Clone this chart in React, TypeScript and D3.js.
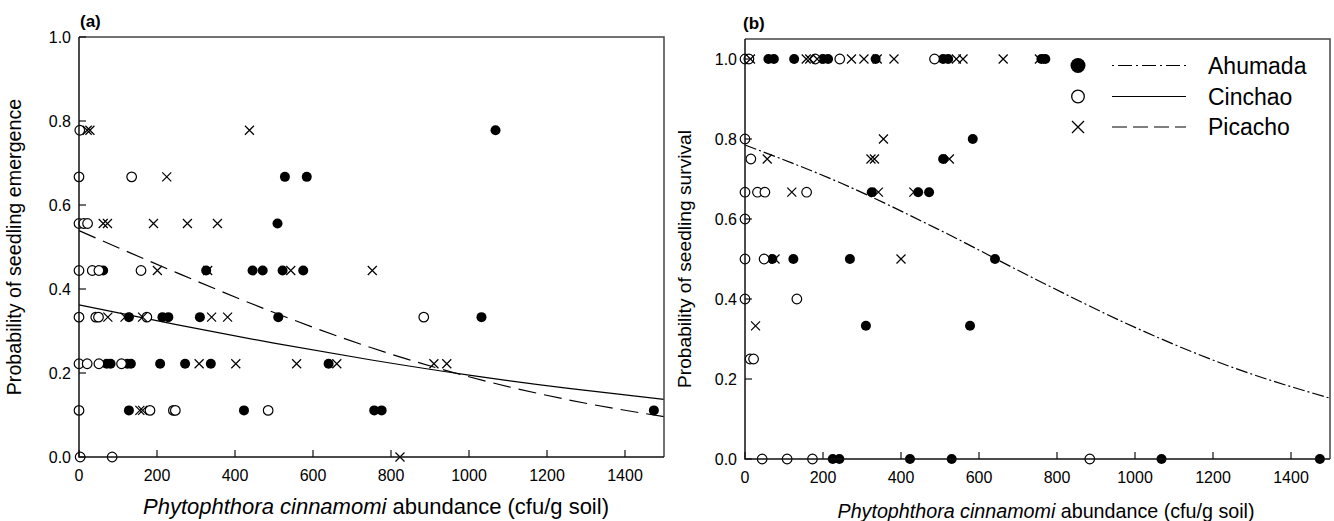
import React from "react";
import * as d3 from "d3";

// ---------- data ----------
// Panel (a): seedling emergence
const emergAhumada: [number, number][] = [
  [1068, 0.778], [528, 0.667], [584, 0.667], [509, 0.556],
  [62, 0.444], [326, 0.444], [445, 0.444], [471, 0.444], [522, 0.444], [575, 0.444],
  [128, 0.333], [214, 0.333], [229, 0.333], [310, 0.333], [511, 0.333], [1032, 0.333],
  [71, 0.222], [81, 0.222], [124, 0.222], [133, 0.222], [208, 0.222], [272, 0.222], [338, 0.222], [640, 0.222],
  [128, 0.111], [423, 0.111], [757, 0.111], [776, 0.111], [1474, 0.111],
];
const emergCinchao: [number, number][] = [
  [2, 0.778], [0, 0.667], [135, 0.667], [0, 0.556], [12, 0.556], [22, 0.556],
  [0, 0.444], [34, 0.444], [51, 0.444], [159, 0.444],
  [0, 0.333], [43, 0.333], [50, 0.333], [174, 0.333], [884, 0.333],
  [0, 0.222], [21, 0.222], [51, 0.222], [109, 0.222],
  [0, 0.111], [182, 0.111], [242, 0.111], [247, 0.111], [485, 0.111],
  [3, 0], [85, 0],
];
const emergPicacho: [number, number][] = [
  [21, 0.778], [28, 0.778], [437, 0.778], [225, 0.667],
  [62, 0.556], [73, 0.556], [191, 0.556], [278, 0.556], [355, 0.556],
  [201, 0.444], [330, 0.444], [543, 0.444], [752, 0.444],
  [74, 0.333], [118, 0.333], [163, 0.333], [340, 0.333], [381, 0.333],
  [308, 0.222], [402, 0.222], [558, 0.222], [661, 0.222], [910, 0.222], [943, 0.222],
  [156, 0.111], [163, 0.111], [823, 0],
];

// Panel (b): seedling survival
const survAhumada: [number, number][] = [
  [60, 1], [74, 1], [126, 1], [200, 1], [213, 1], [335, 1], [508, 1], [521, 1], [760, 1], [770, 1],
  [584, 0.8], [508, 0.75], [325, 0.667], [444, 0.667], [472, 0.667],
  [70, 0.5], [124, 0.5], [269, 0.5], [641, 0.5], [310, 0.333], [577, 0.333],
  [225, 0], [242, 0], [423, 0], [530, 0], [1068, 0], [1474, 0],
];
const survCinchao: [number, number][] = [
  [0, 1], [10, 1], [180, 1], [243, 1], [486, 1],
  [0, 0.8], [15, 0.75], [0, 0.667], [32, 0.667], [51, 0.667], [158, 0.667],
  [0, 0.6], [0, 0.5], [49, 0.5], [0, 0.4], [133, 0.4], [13, 0.25], [22, 0.25],
  [44, 0], [108, 0], [173, 0], [884, 0],
];
const survPicacho: [number, number][] = [
  [14, 1], [157, 1], [166, 1], [185, 1], [273, 1], [305, 1], [339, 1], [382, 1], [542, 1], [559, 1], [662, 1], [755, 1],
  [355, 0.8], [57, 0.75], [323, 0.75], [332, 0.75], [524, 0.75],
  [120, 0.667], [342, 0.667], [433, 0.667], [77, 0.5], [400, 0.5], [27, 0.333],
];

// Fitted curves
const curveX = [0, 250, 500, 750, 1000, 1250, 1500];
const fitEmergCinchao = [0.362, 0.315, 0.271, 0.231, 0.195, 0.164, 0.137];
const fitEmergPicacho = [0.539, 0.439, 0.344, 0.26, 0.191, 0.137, 0.096];
const fitSurvAhumada = [0.785, 0.688, 0.572, 0.447, 0.329, 0.229, 0.152];

const xTicks = [0, 200, 400, 600, 800, 1000, 1200, 1400];
const yTicks = [0, 0.2, 0.4, 0.6, 0.8, 1.0];
const legendNames = ["Ahumada", "Cinchao", "Picacho"];

const FONT = "'Liberation Sans', Arial, Helvetica, sans-serif";

type Scale = d3.ScaleLinear<number, number>;

function Filled({ pts, x, y }: { pts: [number, number][]; x: Scale; y: Scale }) {
  return (
    <g>
      {pts.map((p, i) => (
        <circle key={i} cx={x(p[0])} cy={y(p[1])} r={5} fill="#000" />
      ))}
    </g>
  );
}
function Open({ pts, x, y }: { pts: [number, number][]; x: Scale; y: Scale }) {
  return (
    <g>
      {pts.map((p, i) => (
        <circle key={i} cx={x(p[0])} cy={y(p[1])} r={4.8} fill="#fff" stroke="#000" strokeWidth={1.2} />
      ))}
    </g>
  );
}
function Cross({ pts, x, y, s = 4.5 }: { pts: [number, number][]; x: Scale; y: Scale; s?: number }) {
  return (
    <g stroke="#000" strokeWidth={1.2}>
      {pts.map((p, i) => {
        const cx = x(p[0]);
        const cy = y(p[1]);
        return (
          <path key={i} d={`M${cx - s},${cy - s}L${cx + s},${cy + s}M${cx - s},${cy + s}L${cx + s},${cy - s}`} />
        );
      })}
    </g>
  );
}

function Axes({ x, y, tickFmt }: { x: Scale; y: Scale; tickFmt: (n: number) => string }) {
  const [x0, x1] = x.range();
  const [y0, y1] = y.range();
  return (
    <g fontFamily={FONT} fontSize={16} fill="#000">
      {/* box */}
      <path d={`M${x0},${y1}H${x1}V${y0}`} fill="none" stroke="#444" strokeWidth={1.5} />
      <path d={`M${x0},${y1}V${y0}H${x1}`} fill="none" stroke="#111" strokeWidth={1.5} />
      {xTicks.map((t) => (
        <g key={"x" + t}>
          <line x1={x(t)} x2={x(t)} y1={y0} y2={y0 - 7} stroke="#111" strokeWidth={1.2} />
          <text x={x(t)} y={y0 + 24} textAnchor="middle">{t}</text>
        </g>
      ))}
      {yTicks.map((t) => (
        <g key={"y" + t}>
          <line x1={x0} x2={x0 + 7} y1={y(t)} y2={y(t)} stroke="#111" strokeWidth={1.2} />
          <text x={x0 - 8} y={y(t) + 5.5} textAnchor="end">{tickFmt(t)}</text>
        </g>
      ))}
    </g>
  );
}

function XTitle({ x, y, size }: { x: number; y: number; size: number }) {
  return (
    <text x={x} y={y} textAnchor="middle" fontFamily={FONT} fontSize={size} fill="#000">
      <tspan fontStyle="italic">Phytophthora cinnamomi</tspan> abundance (cfu/g soil)
    </text>
  );
}

export default function App() {
  const xA = d3.scaleLinear().domain([0, 1500]).range([79, 664]);
  const yA = d3.scaleLinear().domain([0, 1]).range([457, 37]);
  const xB = d3.scaleLinear().domain([0, 1500]).range([745, 1330]);
  const yB = d3.scaleLinear().domain([0, 1.05]).range([459, 39]);
  const fmt = d3.format(".1f");

  const lineFn = (x: Scale, y: Scale) =>
    d3
      .line<number>()
      .x((_, i) => x(curveX[i]))
      .y((d) => y(d))
      .curve(d3.curveMonotoneX);

  const legendRows = [65.5, 96.5, 127];
  const lx0 = 1112;
  const lx1 = 1186;
  const mx = 1078;

  return (
    <svg
      width={1334}
      height={521}
      style={{ position: "absolute", left: 0, top: 0, background: "#fff" }}
    >
      <rect width={1334} height={521} fill="#fff" />
      {/* Panel (a) */}
      <text x={80} y={27} fontFamily={FONT} fontWeight="bold" fontSize={17}>(a)</text>
      <path d={lineFn(xA, yA)(fitEmergCinchao) || ""} fill="none" stroke="#000" strokeWidth={1.2} />
      <path d={lineFn(xA, yA)(fitEmergPicacho) || ""} fill="none" stroke="#000" strokeWidth={1.2} strokeDasharray="18,8" />
      <Filled pts={emergAhumada} x={xA} y={yA} />
      <Open pts={emergCinchao} x={xA} y={yA} />
      <Cross pts={emergPicacho} x={xA} y={yA} />
      <Axes x={xA} y={yA} tickFmt={fmt} />
      <XTitle x={376} y={514} size={22} />
      <text
        transform="translate(21,247) rotate(-90)"
        textAnchor="middle"
        fontFamily={FONT}
        fontSize={19.7}
      >
        Probability of seedling emergence
      </text>

      {/* Panel (b) */}
      <text x={743} y={28.5} fontFamily={FONT} fontWeight="bold" fontSize={17}>(b)</text>
      <path d={lineFn(xB, yB)(fitSurvAhumada) || ""} fill="none" stroke="#000" strokeWidth={1.2} strokeDasharray="12,3,2,3" />
      <Filled pts={survAhumada} x={xB} y={yB} />
      <Open pts={survCinchao} x={xB} y={yB} />
      <Cross pts={survPicacho} x={xB} y={yB} />
      <Axes x={xB} y={yB} tickFmt={fmt} />
      <XTitle x={1046} y={518} size={19.7} />
      <text
        transform="translate(691,259) rotate(-90)"
        textAnchor="middle"
        fontFamily={FONT}
        fontSize={19.2}
      >
        Probability of seedling survival
      </text>

      {/* Legend */}
      <g fontFamily={FONT} fontSize={23}>
        <circle cx={mx} cy={legendRows[0]} r={7.5} fill="#000" />
        <circle cx={mx} cy={legendRows[1]} r={6.3} fill="#fff" stroke="#000" strokeWidth={1.3} />
        <path
          d={`M${mx - 6},${legendRows[2] - 6}L${mx + 6},${legendRows[2] + 6}M${mx - 6},${legendRows[2] + 6}L${mx + 6},${legendRows[2] - 6}`}
          stroke="#000"
          strokeWidth={1.3}
        />
        <line x1={lx0} x2={lx1} y1={legendRows[0]} y2={legendRows[0]} stroke="#000" strokeWidth={1.2} strokeDasharray="2,4,14,4" />
        <line x1={lx0} x2={lx1} y1={legendRows[1]} y2={legendRows[1]} stroke="#000" strokeWidth={1.2} />
        <line x1={lx0} x2={lx1} y1={legendRows[2]} y2={legendRows[2]} stroke="#000" strokeWidth={1.2} strokeDasharray="15,6" />
        {legendNames.map((n, i) => (
          <text key={n} x={1208} y={legendRows[i] + 8.3}>{n}</text>
        ))}
      </g>
    </svg>
  );
}
